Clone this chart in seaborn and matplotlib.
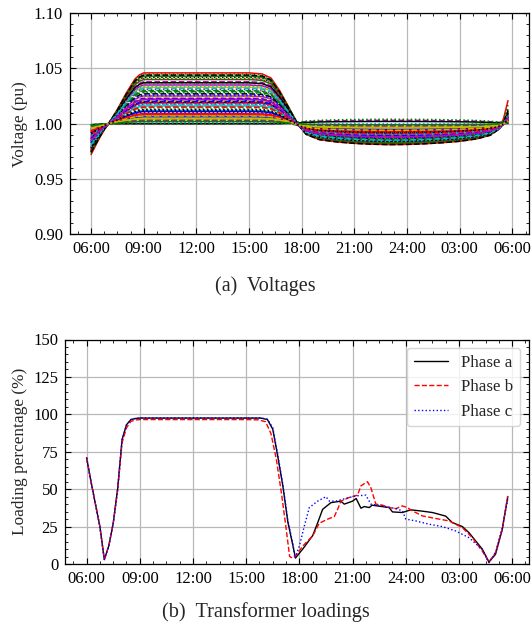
import numpy as np
import pandas as pd
import matplotlib
matplotlib.use("Agg")
import matplotlib.pyplot as plt
import seaborn as sns
from matplotlib.ticker import MultipleLocator, FixedLocator, FormatStrFormatter

sns.set_theme(style="ticks", color_codes=False)
plt.rcParams['font.family'] = ['Liberation Serif', 'DejaVu Serif']

# ---------------- data: voltages (panel a) ----------------
# key times in hours after 06:00
t_key = [0, 0.25, 0.5, 0.75, 1.0, 1.5, 2.0, 2.5, 2.75, 3.0, 3.5, 6.0, 9.0, 9.75,
         10.25, 10.75, 11.25, 11.75, 12.25, 13, 14, 15, 16, 17, 18, 19, 20, 21,
         22, 22.75, 23.25, 23.5, 23.75]
morning_shape = [1, 0.72, 0.45, 0.2, 0, 0, 0, 0, 0, 0, 0, 0, 0, 0,
                 0, 0, 0, 0, 0, 0, 0, 0, 0, 0, 0, 0, 0, 0,
                 0, 0, 0, 0, 0]
day_shape = [0, 0, 0, 0, 0, 0.28, 0.6, 0.88, 0.96, 1, 1, 1, 1, 0.98,
             0.9, 0.66, 0.38, 0.14, 0.03, 0, 0, 0, 0, 0, 0, 0, 0, 0,
             0, 0, 0, 0, 0]
night_shape = [0, 0, 0, 0, 0, 0, 0, 0, 0, 0, 0, 0, 0, 0,
               0, 0.03, 0.12, 0.32, 0.58, 0.76, 0.87, 0.94, 0.98, 1.0, 0.99, 0.96, 0.91, 0.84,
               0.72, 0.55, 0.36, 0.22, 0.06]
end_shape = [0, 0, 0, 0, 0, 0, 0, 0, 0, 0, 0, 0, 0, 0,
             0, 0, 0, 0, 0, 0, 0, 0, 0, 0, 0, 0, 0, 0,
             0, 0, 0.15, 0.4, 1]

# per-bus levels (x 0.001 pu)
day_level = [21, 3, 44, 12, 0, 36, 19, 7, 28, 46, 15, 1, 33, 22, 9, 40, 5, 18, 25, 2,
             42, 11, 30, 20, 6, 38, 14, 0, 23, 45, 8, 17, 31, 4, 27, 10, 43, 19, 1, 35,
             21, 13, 6, 29, 41, 16, 3, 24, 37, 20, 0, 9, 32, 18, 5, 44, 26, 2, 15, 34,
             22, 7, 12]
night_level = [-12, -6, -17, -9, 3, -15, -11, -4, -14, -19, -8, -2, -16, -13, -5, -18, -3, -10, -14, -1,
               -17, -7, -15, -12, -4, -16, -9, 2, -13, -18, -6, -10, -15, -3, -14, -8, -17, -11, 0, -16,
               -12, -9, -5, -14, -18, -10, -2, -13, -16, -11, 4, -7, -15, -10, -4, -19, -13, -1, -9, -16,
               -12, -6, -8]
morning_level = [-15, -5, -26, -10, -1, -22, -13, -4, -18, -28, -9, -2, -20, -14, -6, -24, -3, -12, -17, -2,
                 -25, -8, -19, -14, -4, -23, -10, -1, -16, -27, -6, -11, -20, -3, -17, -8, -25, -12, -1, -21,
                 -15, -9, -5, -18, -24, -11, -3, -16, -22, -13, -1, -7, -19, -12, -4, -26, -17, -2, -10, -21,
                 -15, -5, -9]
end_level = [6, 2, 12, 4, 1, 9, 5, 2, 8, 22, 4, 1, 10, 6, 3, 11, 2, 5, 7, 1,
             14, 4, 8, 6, 2, 10, 4, 0, 7, 18, 3, 5, 9, 2, 7, 4, 12, 5, 1, 9,
             6, 4, 2, 8, 11, 5, 1, 7, 10, 6, 0, 3, 8, 5, 2, 13, 7, 1, 4, 9,
             6, 3, 4]

# ---------------- data: transformer loadings (panel b) ----------------
t_a = [0, 0.25, 0.5, 0.75, 1.0, 1.25, 1.5, 1.75, 2.0, 2.25, 2.5, 2.75, 3.0, 6.0, 9.0, 9.83,
       10.2, 10.5, 10.78, 11.07, 11.35, 11.64, 11.78, 12.19, 12.75, 13.03, 13.31, 13.78,
       14.34, 14.53, 15.0, 15.2, 15.47, 15.66, 15.94, 16.1, 17.06, 17.25, 17.81, 18.28,
       18.94, 19.5, 20.25, 20.62, 21.19, 21.56, 22.31, 22.69, 23.06, 23.44, 23.75]
load_a = [71, 55, 40, 25, 3, 12, 27, 50, 83, 93, 96.5, 97.2, 97.5, 97.5, 97.5, 97.5,
          96.5, 90, 72, 52, 28, 12, 4, 10, 19, 27.5, 36.5, 41,
          42, 40, 42, 43.8, 37.3, 38.4, 37.7, 39.3, 37.7, 34.8, 34.4, 36.2,
          35.3, 34.4, 32, 27.7, 25, 21, 10, 1.3, 6.5, 23, 45]
t_b = [0, 0.25, 0.5, 0.75, 1.0, 1.25, 1.5, 1.75, 2.0, 2.25, 2.5, 2.75, 3.0, 6.0, 9.0, 9.7,
       10.1, 10.4, 10.7, 10.98, 11.26, 11.45, 11.6, 11.8, 12.19, 12.75, 13.12, 13.6,
       13.97, 14.16, 14.34, 14.8, 15.28, 15.47, 15.84, 16.03, 16.31, 16.69, 17.06, 17.44,
       17.81, 18.09, 18.37, 18.94, 19.69, 20.44, 21.19, 21.75, 22.31, 22.69, 23.06, 23.44, 23.75]
load_b = [71, 55, 40, 25, 3, 12, 27, 49, 81, 91, 95.3, 96.2, 96.5, 96.5, 96.5, 96.3,
          95, 87, 70, 48, 23, 5, 4, 5.4, 12, 18.8, 27.2, 30,
          31.7, 36.6, 42, 44.4, 46, 52.2, 55, 51, 40, 39.3, 37.7, 37,
          38.8, 37.7, 35.5, 32.1, 30.4, 28.8, 24.3, 17.6, 8.7, 1.3, 7.6, 23.2, 45.5]
t_c = [0, 0.25, 0.5, 0.75, 1.0, 1.25, 1.5, 1.75, 2.0, 2.25, 2.5, 2.75, 3.0, 6.0, 9.0, 9.83,
       10.2, 10.5, 10.78, 11.07, 11.35, 11.64, 11.75, 12.0, 12.28, 12.56, 13.03, 13.5,
       13.69, 14.06, 14.8, 15.19, 15.75, 16.03, 16.69, 17.44, 17.81, 18.0, 18.56, 19.31,
       20.06, 20.81, 21.56, 22.31, 22.69, 23.06, 23.44, 23.75]
load_c = [71, 55, 40, 25, 3, 12, 27, 50, 83, 93, 96.6, 97.3, 97.6, 97.6, 97.6, 97.6,
          96.7, 91, 73, 53, 29, 13, 4, 12, 25.4, 37.7, 42, 45,
          42, 42, 44.4, 45.5, 46, 40, 38.8, 37, 35.5, 30, 28.8, 26.6,
          25, 22.1, 17.6, 9.8, 0.9, 7.6, 24.3, 43.3]
phase_names = ["Phase a", "Phase b", "Phase c"]

tick_pos = [0, 3, 6, 9, 12, 15, 18, 21, 24]
tick_labels = ["06:00", "09:00", "12:00", "15:00", "18:00", "21:00", "24:00", "03:00", "06:00"]

# ---------------- build long-form frames ----------------
tk = np.array(t_key)
rows = []
for i in range(len(day_level)):
    v = (1.0 + 0.001 * (morning_level[i] * np.array(morning_shape)
                        + day_level[i] * np.array(day_shape)
                        + night_level[i] * np.array(night_shape)
                        + end_level[i] * np.array(end_shape)))
    rows.append(pd.DataFrame({"t": tk, "v": v, "bus": i}))
dfv = pd.concat(rows, ignore_index=True)

base_colors = ['#0000ff', '#008000', '#ff0000', '#00bfbf', '#bf00bf', '#bfbf00', '#000000']
base_dashes = ["", (3.7, 1.6), (1, 1.65)]
n = len(day_level)
palette = [base_colors[i % 7] for i in range(n)]
dashes = [base_dashes[i % 3] for i in range(n)]

dfl = pd.concat([
    pd.DataFrame({"t": t_a, "load": load_a, "phase": phase_names[0]}),
    pd.DataFrame({"t": t_b, "load": load_b, "phase": phase_names[1]}),
    pd.DataFrame({"t": t_c, "load": load_c, "phase": phase_names[2]}),
], ignore_index=True)

# ---------------- figure ----------------
W, H = 531, 625
fig = plt.figure(figsize=(W / 100, H / 100), dpi=100)
ax1 = fig.add_axes([70 / W, 1 - 234 / H, (528.5 - 70) / W, (234 - 13.3) / H])
ax2 = fig.add_axes([65.3 / W, 1 - 564 / H, (528.5 - 65.3) / W, (564 - 339.5) / H])

FS = 12
sns.lineplot(data=dfv, x="t", y="v", hue="bus", style="bus", palette=palette,
             dashes=dashes, estimator=None, sort=False, linewidth=1.1,
             legend=False, ax=ax1)

sns.lineplot(data=dfl, x="t", y="load", hue="phase", style="phase",
             palette=["#000000", "#ff0000", "#0000ff"], dashes=["", (3.7, 1.6), (1, 1.65)],
             estimator=None, sort=False, linewidth=1.0, ax=ax2)

for ax in (ax1, ax2):
    ax.set_xlim(-1.2, 24.92)
    ax.xaxis.set_major_locator(FixedLocator(tick_pos))
    ax.set_xticklabels(tick_labels)
    ax.xaxis.set_minor_locator(MultipleLocator(0.75))
    ax.grid(True, which="major", color="0.72", linewidth=0.9)
    ax.set_axisbelow(True)
    ax.tick_params(which="both", direction="in", top=True, right=True,
                   labelsize=FS, colors="k", pad=5)
    ax.tick_params(which="major", length=4, width=0.8)
    ax.tick_params(which="minor", length=2.2, width=0.6)
    ax.set_xlabel("")
    for s in ax.spines.values():
        s.set_color("k")
        s.set_linewidth(0.9)

ax1.set_ylim(0.9, 1.1)
ax1.yaxis.set_major_locator(MultipleLocator(0.05))
ax1.yaxis.set_minor_locator(MultipleLocator(0.01))
ax1.yaxis.set_major_formatter(FormatStrFormatter("%.2f"))
ax1.set_ylabel("Voltage (pu)", fontsize=12.4, labelpad=4)

ax2.set_ylim(0, 150)
ax2.yaxis.set_major_locator(MultipleLocator(25))
ax2.yaxis.set_minor_locator(MultipleLocator(5))
ax2.set_ylabel("Loading percentage (%)", fontsize=12.4, labelpad=4)
leg = ax2.legend(loc="upper right", fontsize=12.2, frameon=True, fancybox=True,
                 framealpha=0.8, edgecolor="0.8", title=None)
for h in leg.get_lines():
    h.set_linewidth(1.0)

fig.text(0.5, 1 - 286 / H, "(a)  Voltages", ha="center", va="center", fontsize=14.5)
fig.text(0.5, 1 - 612 / H, "(b)  Transformer loadings", ha="center", va="center", fontsize=14.6)

fig.savefig("out.png", dpi=100)
